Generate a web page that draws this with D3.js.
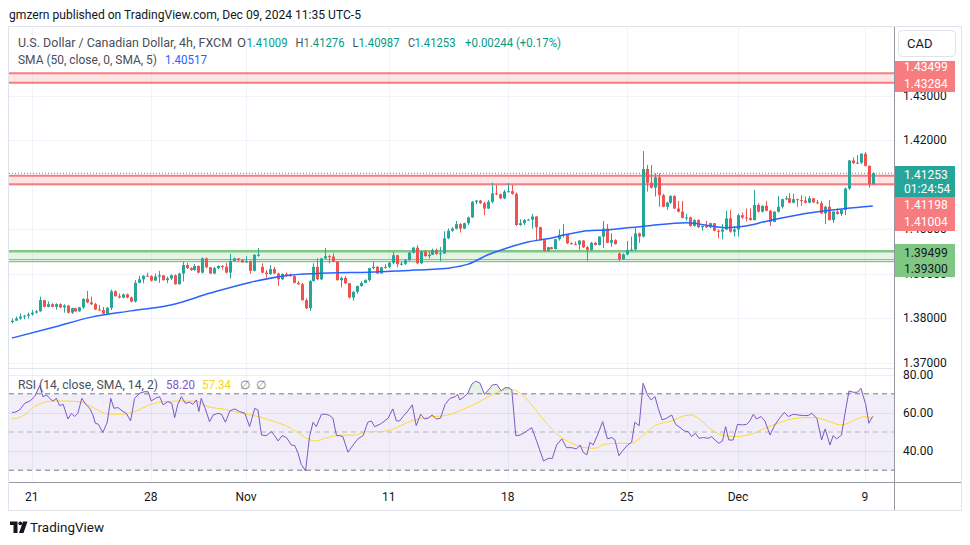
<!DOCTYPE html>
<html>
<head>
<meta charset="utf-8">
<script src="https://d3js.org/d3.v7.min.js"></script>
<style>
  html, body { margin: 0; padding: 0; background: #fff; }
  svg { display: block; font-family: Roboto, "Liberation Sans", sans-serif; }
</style>
</head>
<body>
<script>
// USD/CAD 4h candles, bar 0 = Fri Oct 18 05:00, bar 217 = Mon Dec 9 09:00 (UTC-5)
const firstOpen = 1.3791;
const gapBars = [63, 153];          // weekend gaps: open differs from previous close
const gapOpens = [1.3915, 1.3945];

const closes = [
  1.3794, 1.3799, 1.3803, 1.3805, 1.3808, 1.3812, 1.3815, 1.3840, 1.3825, 1.3831,
  1.3825, 1.3831, 1.3824, 1.3828, 1.3812, 1.3822, 1.3815, 1.3824, 1.3843, 1.3835,
  1.3831, 1.3819, 1.3818, 1.3810, 1.3823, 1.3860, 1.3849, 1.3846, 1.3853, 1.3846,
  1.3837, 1.3879, 1.3887, 1.3895, 1.3894, 1.3884, 1.3893, 1.3896, 1.3885, 1.3889,
  1.3896, 1.3876, 1.3900, 1.3919, 1.3912, 1.3908, 1.3917, 1.3902, 1.3934, 1.3914,
  1.3900, 1.3912, 1.3917, 1.3915, 1.3902, 1.3928, 1.3934, 1.3930, 1.3925, 1.3928,
  1.3906, 1.3942, 1.3942, 1.3902, 1.3899, 1.3910, 1.3900, 1.3887, 1.3899, 1.3898,
  1.3894, 1.3879, 1.3876, 1.3840, 1.3822, 1.3883, 1.3915, 1.3887, 1.3934, 1.3939,
  1.3938, 1.3927, 1.3885, 1.3890, 1.3878, 1.3846, 1.3859, 1.3872, 1.3879, 1.3885,
  1.3912, 1.3915, 1.3900, 1.3914, 1.3915, 1.3924, 1.3941, 1.3921, 1.3922, 1.3930,
  1.3947, 1.3958, 1.3923, 1.3949, 1.3939, 1.3942, 1.3953, 1.3944, 1.3945, 1.3979,
  1.3996, 1.4001, 1.4011, 1.4001, 1.4013, 1.4026, 1.4061, 1.4064, 1.4058, 1.4046,
  1.4061, 1.4080, 1.4078, 1.4069, 1.4084, 1.4085, 1.4079, 1.4009, 1.4013, 1.4020,
  1.4021, 1.4028, 1.4004, 1.3975, 1.3951, 1.3959, 1.3955, 1.3977, 1.3987, 1.3988,
  1.3968, 1.3966, 1.3965, 1.3974, 1.3959, 1.3953, 1.3969, 1.3964, 1.3983, 1.4001,
  1.3969, 1.3975, 1.3966, 1.3932, 1.3943, 1.3953, 1.3954, 1.3990, 1.3983, 1.4135,
  1.4104, 1.4093, 1.4116, 1.4076, 1.4050, 1.4059, 1.4074, 1.4046, 1.4039, 1.4025,
  1.4026, 1.4007, 1.4020, 1.4004, 1.4007, 1.4004, 1.4013, 1.3996, 1.3994, 1.3999,
  1.4024, 1.3994, 1.3999, 1.4031, 1.4026, 1.4025, 1.4020, 1.4054, 1.4039, 1.4052,
  1.4041, 1.4016, 1.4039, 1.4050, 1.4067, 1.4069, 1.4059, 1.4067, 1.4065, 1.4064,
  1.4059, 1.4069, 1.4060, 1.4058, 1.4035, 1.4050, 1.4020, 1.4039, 1.4034, 1.4043,
  1.4091, 1.4154, 1.4148, 1.4149, 1.4169, 1.4142, 1.41009, 1.41253
];
const highs = [
  1.3799, 1.3803, 1.3810, 1.3807, 1.3812, 1.3818, 1.3818, 1.3848, 1.3840, 1.3837,
  1.3833, 1.3833, 1.3833, 1.3831, 1.3829, 1.3823, 1.3823, 1.3825, 1.3844, 1.3861,
  1.3848, 1.3834, 1.3829, 1.3825, 1.3825, 1.3864, 1.3862, 1.3855, 1.3855, 1.3855,
  1.3848, 1.3885, 1.3894, 1.3896, 1.3902, 1.3896, 1.3900, 1.3906, 1.3896, 1.3893,
  1.3898, 1.3898, 1.3902, 1.3927, 1.3924, 1.3914, 1.3921, 1.3918, 1.3936, 1.3936,
  1.3915, 1.3915, 1.3918, 1.3919, 1.3924, 1.3944, 1.3936, 1.3934, 1.3932, 1.3939,
  1.3929, 1.3943, 1.3957, 1.3923, 1.3908, 1.3919, 1.3915, 1.3902, 1.3900, 1.3902,
  1.3900, 1.3896, 1.3883, 1.3879, 1.3844, 1.3885, 1.3923, 1.3934, 1.3935, 1.3957,
  1.3942, 1.3945, 1.3928, 1.3893, 1.3894, 1.3879, 1.3860, 1.3873, 1.3883, 1.3887,
  1.3913, 1.3927, 1.3917, 1.3915, 1.3921, 1.3926, 1.3948, 1.3942, 1.3927, 1.3932,
  1.3948, 1.3960, 1.3964, 1.3951, 1.3953, 1.3949, 1.3956, 1.3956, 1.3960, 1.3995,
  1.4001, 1.4004, 1.4018, 1.4013, 1.4014, 1.4028, 1.4063, 1.4065, 1.4065, 1.4061,
  1.4065, 1.4104, 1.4099, 1.4080, 1.4088, 1.4103, 1.4099, 1.4082, 1.4022, 1.4022,
  1.4023, 1.4034, 1.4029, 1.4005, 1.3977, 1.3960, 1.3960, 1.3978, 1.3999, 1.4011,
  1.3988, 1.3970, 1.3972, 1.3975, 1.3975, 1.3962, 1.3971, 1.3971, 1.3984, 1.4018,
  1.4011, 1.3990, 1.3977, 1.3947, 1.3945, 1.3973, 1.3983, 1.4004, 1.3992, 1.4175,
  1.4144, 1.4144, 1.4125, 1.4125, 1.4079, 1.4061, 1.4076, 1.4076, 1.4063, 1.4063,
  1.4034, 1.4028, 1.4022, 1.4022, 1.4008, 1.4018, 1.4014, 1.4013, 1.3999, 1.4011,
  1.4041, 1.4043, 1.4007, 1.4034, 1.4037, 1.4046, 1.4046, 1.4088, 1.4058, 1.4053,
  1.4063, 1.4043, 1.4040, 1.4074, 1.4068, 1.4074, 1.4080, 1.4079, 1.4068, 1.4076,
  1.4073, 1.4074, 1.4070, 1.4065, 1.4063, 1.4052, 1.4065, 1.4040, 1.4046, 1.4044,
  1.4093, 1.4155, 1.4161, 1.4166, 1.4170, 1.4173, 1.4143, 1.41276
];
const lows = [
  1.3788, 1.3794, 1.3796, 1.3797, 1.3799, 1.3805, 1.3810, 1.3814, 1.3824, 1.3824,
  1.3824, 1.3819, 1.3822, 1.3812, 1.3810, 1.3809, 1.3814, 1.3814, 1.3820, 1.3833,
  1.3829, 1.3818, 1.3816, 1.3809, 1.3809, 1.3818, 1.3848, 1.3844, 1.3844, 1.3844,
  1.3835, 1.3835, 1.3878, 1.3878, 1.3893, 1.3882, 1.3884, 1.3879, 1.3884, 1.3878,
  1.3885, 1.3875, 1.3875, 1.3882, 1.3910, 1.3906, 1.3906, 1.3900, 1.3900, 1.3912,
  1.3899, 1.3899, 1.3909, 1.3909, 1.3900, 1.3889, 1.3927, 1.3927, 1.3924, 1.3924,
  1.3900, 1.3905, 1.3938, 1.3900, 1.3891, 1.3897, 1.3899, 1.3872, 1.3885, 1.3893,
  1.3893, 1.3878, 1.3874, 1.3839, 1.3820, 1.3816, 1.3882, 1.3885, 1.3885, 1.3933,
  1.3923, 1.3925, 1.3884, 1.3869, 1.3876, 1.3844, 1.3839, 1.3855, 1.3870, 1.3878,
  1.3882, 1.3909, 1.3899, 1.3900, 1.3911, 1.3912, 1.3921, 1.3914, 1.3918, 1.3919,
  1.3928, 1.3945, 1.3921, 1.3921, 1.3938, 1.3934, 1.3942, 1.3942, 1.3928, 1.3944,
  1.3977, 1.3994, 1.3999, 1.3992, 1.4000, 1.4009, 1.4025, 1.4056, 1.4056, 1.4031,
  1.4045, 1.4058, 1.4076, 1.4067, 1.4067, 1.4082, 1.4077, 1.4007, 1.4007, 1.4009,
  1.4019, 1.4001, 1.3975, 1.3974, 1.3949, 1.3949, 1.3954, 1.3954, 1.3974, 1.3981,
  1.3966, 1.3965, 1.3964, 1.3953, 1.3957, 1.3929, 1.3951, 1.3963, 1.3963, 1.3957,
  1.3968, 1.3960, 1.3965, 1.3927, 1.3930, 1.3941, 1.3951, 1.3951, 1.3969, 1.3981,
  1.4084, 1.4091, 1.4073, 1.4050, 1.4049, 1.4043, 1.4056, 1.4045, 1.4037, 1.4024,
  1.4019, 1.4005, 1.4005, 1.4002, 1.3996, 1.4002, 1.4002, 1.3995, 1.3979, 1.3977,
  1.3998, 1.3992, 1.3983, 1.3983, 1.4022, 1.4017, 1.4019, 1.4019, 1.4037, 1.4037,
  1.4040, 1.4007, 1.4015, 1.4037, 1.4046, 1.4065, 1.4058, 1.4058, 1.4050, 1.4052,
  1.4058, 1.4058, 1.4058, 1.4056, 1.4034, 1.4011, 1.4019, 1.4014, 1.4032, 1.4029,
  1.4031, 1.4088, 1.4146, 1.4146, 1.4146, 1.4140, 1.4093, 1.40987
];

// SMA(50) line at these bars
const smaBars = [0, 10, 20, 30, 40, 50, 60, 70, 80, 90, 100, 105, 110, 115, 120, 125, 130,
  135, 140, 145, 150, 160, 170, 180, 185, 190, 200, 210, 217];
const smaValues = [1.3755, 1.3778, 1.3802, 1.3816, 1.3829, 1.3856, 1.3880, 1.3896, 1.3901,
  1.3903, 1.3907, 1.3909, 1.3912, 1.3921, 1.3942, 1.3958, 1.3971, 1.3978, 1.3988, 1.3996,
  1.3998, 1.4007, 1.4014, 1.4003, 1.4007, 1.4017, 1.4035, 1.4046, 1.40517];

const rsiPos = [0, 0.7, 1.9, 3.2, 4.5, 5.7, 7, 7.8, 8.7, 9.5, 10.3, 11.2, 12, 12.9, 14.1, 15,
  15.8, 16.6, 17.6, 18.7, 19.6, 20.4, 21, 21.8, 22.9, 24, 24.9, 25.7, 26.7, 28, 28.8, 29.9,
  30.9, 32.2, 33.4, 34.3, 35.1, 36.1, 37.2, 38.1, 39.3, 40.3, 41, 41.8, 42.7, 43.7, 44.8,
  45.6, 46.5, 47.1, 47.7, 48.7, 49.8, 50.7, 51.9, 52.8, 53.8, 54.9, 56.1, 57.4, 58.7, 59.9,
  61.2, 62, 62.9, 64.1, 65.4, 66.2, 67.1, 68.1, 69.2, 70.4, 71.3, 72.1, 72.9, 74, 75, 75.9,
  76.7, 78, 79.2, 80.1, 80.9, 81.8, 82.6, 83.4, 84.7, 86, 87.2, 88.5, 89.7, 90.6, 91.4, 92.7,
  93.5, 94.8, 96, 96.9, 97.7, 98.6, 99.8, 100.9, 101.9, 103, 104, 104.9, 105.9, 107, 108,
  109.2, 110.4, 111.7, 112.3, 112.9, 114, 114.9, 115.9, 116.9, 118, 119.1, 120.1, 121.1,
  122.2, 123.3, 124.3, 125.3, 126, 127, 128.1, 129.3, 131, 132.3, 134, 135.2, 136.2, 137.3,
  138.6, 139.8, 141.1, 142.3, 143.2, 144, 144.9, 145.7, 146.5, 147.6, 148.9, 150.1, 151.2,
  152, 153, 154.1, 155.2, 156.2, 157, 158.1, 159.1, 160.2, 161.1, 162.1, 162.9, 163.9, 165,
  166.3, 167.3, 168.4, 169.5, 170.5, 171.3, 172.3, 173.2, 174.3, 175.5, 176.4, 177.2, 178.2,
  179.1, 179.9, 180.7, 181.8, 182.9, 184.1, 185.2, 186, 186.9, 187.7, 188.8, 189.8, 191.1,
  192.3, 193.6, 194.7, 195.7, 197, 198.2, 199.5, 200.7, 201.6, 202.9, 204.1, 205, 206.2,
  207, 207.9, 209.1, 210, 211, 212.1, 213.1, 214, 215.2, 216, 217];
const rsiValues = [60.3, 60.3, 61.5, 65.0, 66.2, 68.5, 74.3, 68.5, 69.4, 67.6, 66.2, 67.6,
  63.8, 64.5, 56.8, 59.8, 58.1, 59.8, 67.6, 64.2, 62.4, 58.9, 54.6, 54.0, 49.7, 55.1, 67.6,
  62.4, 62.8, 60.7, 59.8, 55.8, 67.6, 70.3, 71.1, 71.1, 66.2, 67.6, 68.5, 64.2, 65.9, 65.0,
  57.5, 64.5, 68.5, 65.0, 65.6, 64.5, 66.8, 60.7, 67.6, 62.4, 55.4, 58.9, 59.8, 59.3, 55.1,
  61.0, 62.1, 60.7, 59.8, 52.8, 62.4, 61.5, 48.4, 48.1, 50.2, 48.1, 45.3, 48.1, 47.1, 43.2,
  42.9, 38.9, 33.1, 29.6, 47.6, 55.1, 52.8, 59.3, 59.3, 58.6, 57.2, 48.1, 48.1, 47.6, 39.4,
  43.2, 46.4, 48.1, 55.1, 55.8, 52.8, 54.0, 55.1, 57.2, 62.1, 55.8, 55.8, 58.1, 61.0, 64.2,
  53.3, 59.3, 56.8, 57.2, 58.9, 56.8, 57.2,
  64.5, 67.6, 68.5, 69.7, 66.8, 68.5, 70.3, 75.0, 76.7, 75.5, 69.7, 72.0, 74.6, 75.0, 71.5,
  73.2, 73.2, 72.0, 48.1, 48.4, 49.8, 52.3, 45.0, 34.8, 36.2, 36.2, 43.2, 46.4, 41.8, 41.8,
  41.1, 43.2, 39.4, 38.0, 44.6, 43.2, 48.4, 55.4, 46.4, 47.1, 45.8, 37.6, 40.6, 43.2, 44.6,
  55.1, 53.3, 75.5, 69.4, 66.8, 68.5, 62.4, 56.3, 57.2, 58.9, 54.0, 52.3, 50.5, 50.2, 47.6,
  49.3, 46.7, 47.1, 46.7, 47.6, 45.8, 44.1, 45.3, 52.8, 45.8, 45.8, 54.0, 53.7, 54.0, 55.8,
  59.3, 56.8, 58.1, 55.8, 48.4, 53.7, 57.5, 60.3, 58.1, 59.3, 58.9, 58.6, 58.6, 59.8, 57.2,
  45.8, 51.6, 43.2, 48.1, 46.4, 48.4, 59.8, 71.5, 70.8, 70.8, 72.9, 64.5, 54.6, 58.2];
const rsiMaPos = [0, 2.4, 5.7, 9.9, 14.1, 17.5, 20.8, 24.2, 27.6, 30.9, 35.1, 38.5, 42.7,
  46.1, 49.4, 53.6, 57.8, 62, 66.2, 70.4, 72.9, 74.6, 76.3, 79.7, 83, 86.4, 89.7, 93.1,
  96.5, 99.8, 103.2, 106.6, 109.5, 113.4, 117.6, 121.8, 125.1, 127.6, 131, 134.4, 137.7,
  141.1, 144.4, 147, 149.5, 152.8, 155.8, 158.7, 162.1, 166.3, 169.7, 171.3, 173, 176.4,
  179.7, 182.3, 185.6, 189.8, 193.2, 196.5, 199.9, 202.4, 205, 209.1, 212.5, 215, 217];
const rsiMaValues = [56.8, 58.1, 63.3, 66.2, 66.2, 65.6, 62.4, 59.4, 59.3, 60.7, 64.5, 65.9,
  66.2, 66.2, 63.3, 61.9, 59.8, 58.1, 55.4, 51.9, 48.4, 46.4, 45.3, 47.1, 48.4, 48.4, 50.2,
  50.2, 51.9, 55.1, 57.2, 58.1, 58.7, 61.5, 65.6, 70.3, 72.5, 71.1, 64.2, 55.4, 48.4, 44.1,
  41.8, 41.5, 43.6, 44.1, 43.9, 47.6, 53.3, 55.8, 58.6, 58.9, 57.2, 51.1, 48.1, 47.6, 48.4,
  51.9, 54.6, 56.8, 57.5, 57.5, 56.3, 53.7, 56.3, 58.1, 57.34];

// horizontal levels drawn on the chart
const redBands = [[1.43499, 1.43284], [1.41198, 1.41004]];
const greenBand = [1.39499, 1.39300];
const lastPrice = 1.41253;
const priceTicks = [1.37, 1.38, 1.39, 1.40, 1.41, 1.42, 1.43];
const rsiTicks = [80, 60, 40];
const timeBars = [5, 35, 59, 95, 125, 155, 183, 215];
const timeLabels = ["21", "28", "Nov", "11", "18", "25", "Dec", "9"];

const w = 970, h = 545;
const padL = 9, padR = 894, frameR = 961;
const paneTop = 27, sepY = 368.5, axisY = 482, frameB = 510;
const up = "#26a69a", down = "#ef5350", band = "#f77c80", green = "#81c784";

const svg = d3.select("body").append("svg").attr("width", w).attr("height", h);
const x = d3.scaleLinear().domain([0, 217]).range([12, 872.8]);
const y = d3.scaleLinear().domain([1.37, 1.43]).range([362.5, 95.5]);
const yr = d3.scaleLinear().domain([30, 70]).range([470.2, 393.8]);

const defs = svg.append("defs");
defs.append("clipPath").attr("id", "mainClip").append("rect")
  .attr("x", padL).attr("y", paneTop).attr("width", padR - padL).attr("height", sepY - paneTop);
defs.append("clipPath").attr("id", "rsiClip").append("rect")
  .attr("x", padL).attr("y", sepY).attr("width", padR - padL).attr("height", axisY - sepY);

function label(g, px, py, s, color, size, opts = {}) {
  const t = g.append("text").attr("x", px).attr("y", py).text(s)
    .attr("fill", color).attr("font-size", size);
  if (opts.anchor) t.attr("text-anchor", opts.anchor);
  if (opts.len) t.attr("textLength", opts.len).attr("lengthAdjust", "spacingAndGlyphs");
  return t;
}

// header
label(svg, 9, 19, "gmzern published on TradingView.com, Dec 09, 2024 11:35 UTC-5", "#131722", 13, { len: 352 });

// frame
svg.append("rect").attr("x", padL - 0.5).attr("y", paneTop - 0.5)
  .attr("width", frameR - padL + 1).attr("height", frameB - paneTop + 1)
  .attr("fill", "none").attr("stroke", "#e0e3eb");

// grid
const grid = svg.append("g").attr("stroke", "#f0f3fa").attr("stroke-width", 1);
timeBars.forEach(b => {
  grid.append("line").attr("x1", Math.round(x(b)) + 0.5).attr("x2", Math.round(x(b)) + 0.5)
    .attr("y1", paneTop).attr("y2", axisY);
});
priceTicks.forEach(p => {
  grid.append("line").attr("x1", padL).attr("x2", padR)
    .attr("y1", Math.round(y(p)) + 0.5).attr("y2", Math.round(y(p)) + 0.5);
});

// main pane
const main = svg.append("g").attr("clip-path", "url(#mainClip)");

redBands.forEach(([a, b]) => {
  main.append("rect").attr("x", padL).attr("width", padR - padL)
    .attr("y", y(a)).attr("height", y(b) - y(a)).attr("fill", "rgba(247,124,128,0.2)");
  [a, b].forEach(p => main.append("line").attr("x1", padL).attr("x2", padR)
    .attr("y1", y(p)).attr("y2", y(p)).attr("stroke", band).attr("stroke-width", 2));
});
main.append("rect").attr("x", padL).attr("width", padR - padL)
  .attr("y", y(greenBand[0])).attr("height", y(greenBand[1]) - y(greenBand[0]))
  .attr("fill", "rgba(129,199,132,0.2)");
main.append("line").attr("x1", padL).attr("x2", padR)
  .attr("y1", y(greenBand[0])).attr("y2", y(greenBand[0])).attr("stroke", green).attr("stroke-width", 2.5);
main.append("line").attr("x1", padL).attr("x2", padR)
  .attr("y1", y(greenBand[1]) - 0.5).attr("y2", y(greenBand[1]) - 0.5).attr("stroke", green).attr("stroke-width", 1.2);
main.append("line").attr("x1", padL).attr("x2", padR)
  .attr("y1", y(greenBand[1]) + 1.5).attr("y2", y(greenBand[1]) + 1.5).attr("stroke", green).attr("stroke-width", 1.2);

main.append("line").attr("x1", padL).attr("x2", padR)
  .attr("y1", y(lastPrice)).attr("y2", y(lastPrice))
  .attr("stroke", up).attr("stroke-width", 1).attr("stroke-dasharray", "1 2");

const candles = closes.map((c, i) => {
  let o = i === 0 ? firstOpen : closes[i - 1];
  const g = gapBars.indexOf(i);
  if (g >= 0) o = gapOpens[g];
  return { i, o, c, h: Math.max(highs[i], o, c), l: Math.min(lows[i], o, c) };
});
const cg = main.append("g");
cg.selectAll("line").data(candles).join("line")
  .attr("x1", d => Math.round(x(d.i)) + 0.5).attr("x2", d => Math.round(x(d.i)) + 0.5)
  .attr("y1", d => y(d.h)).attr("y2", d => y(d.l))
  .attr("stroke", d => d.c >= d.o ? up : down).attr("stroke-width", 1);
cg.selectAll("rect").data(candles).join("rect")
  .attr("x", d => Math.round(x(d.i)) - 1)
  .attr("width", 3)
  .attr("y", d => y(Math.max(d.o, d.c)))
  .attr("height", d => Math.max(1, Math.abs(y(d.o) - y(d.c))))
  .attr("fill", d => d.c >= d.o ? up : down);

const smaLine = d3.line().x(d => x(d[0])).y(d => y(d[1])).curve(d3.curveMonotoneX);
main.append("path").datum(smaBars.map((b, k) => [b, smaValues[k]]))
  .attr("d", smaLine).attr("fill", "none").attr("stroke", "#2962ff").attr("stroke-width", 1.5);

// legends
const lg = svg.append("g");
const l1 = lg.append("text").attr("y", 47).attr("font-size", 12);
const l1parts = [
  ["U.S. Dollar / Canadian Dollar, 4h, FXCM", 18, 214, "#4a4e59"],
  ["O", 237, 9, "#4a4e59"], ["1.41009", 246.5, 41, "#089981"],
  ["H", 295.5, 8, "#4a4e59"], ["1.41276", 303.5, 41, "#089981"],
  ["L", 352.5, 6, "#4a4e59"], ["1.40987", 358.5, 41, "#089981"],
  ["C", 408, 7, "#4a4e59"], ["1.41253", 414.5, 41, "#089981"],
  ["+0.00244 (+0.17%)", 465, 96, "#089981"]
];
l1parts.forEach(([s, px, len, col]) => l1.append("tspan").attr("x", px).attr("fill", col)
  .attr("textLength", len).attr("lengthAdjust", "spacingAndGlyphs").text(s));
label(lg, 18, 64, "SMA (50, close, 0, SMA, 5)", "#4a4e59", 12, { len: 139 });
label(lg, 165, 64, "1.40517", "#2962ff", 12, { len: 42 });

// RSI pane
const rsi = svg.append("g").attr("clip-path", "url(#rsiClip)");
rsi.append("rect").attr("x", padL).attr("width", padR - padL)
  .attr("y", yr(70)).attr("height", yr(30) - yr(70)).attr("fill", "rgba(126,87,194,0.1)");
rsiTicks.forEach(v => rsi.append("line").attr("x1", padL).attr("x2", padR)
  .attr("y1", Math.round(yr(v)) + 0.5).attr("y2", Math.round(yr(v)) + 0.5)
  .attr("stroke", "rgba(126,87,194,0.12)"));
[[70, "#787b86"], [50, "rgba(120,123,134,0.5)"], [30, "#787b86"]].forEach(([v, col]) =>
  rsi.append("line").attr("x1", padL).attr("x2", padR)
    .attr("y1", yr(v)).attr("y2", yr(v)).attr("stroke", col).attr("stroke-dasharray", "5 4"));

const rsiPts = rsiPos.map((p, k) => [p, rsiValues[k]]);
rsi.append("path").datum(rsiPts)
  .attr("d", d3.area().x(d => x(d[0])).y0(yr(70)).y1(d => yr(Math.max(70, d[1]))))
  .attr("fill", "rgba(76,175,80,0.15)");
rsi.append("path").datum(rsiPts)
  .attr("d", d3.area().x(d => x(d[0])).y0(yr(30)).y1(d => yr(Math.min(30, d[1]))))
  .attr("fill", "rgba(242,54,69,0.15)");
rsi.append("path").datum(rsiMaPos.map((p, k) => [p, rsiMaValues[k]]))
  .attr("d", d3.line().x(d => x(d[0])).y(d => yr(d[1])).curve(d3.curveMonotoneX))
  .attr("fill", "none").attr("stroke", "#fdd835").attr("stroke-width", 1);
rsi.append("path").datum(rsiPts)
  .attr("d", d3.line().x(d => x(d[0])).y(d => yr(d[1])))
  .attr("fill", "none").attr("stroke", "#7e57c2").attr("stroke-width", 1);

label(svg, 18, 389, "RSI (14, close, SMA, 14, 2)", "#4a4e59", 12, { len: 140 });
label(svg, 166, 389, "58.20", "#7e57c2", 12, { len: 29 });
label(svg, 202, 389, "57.34", "#f9d51b", 12, { len: 29 });
label(svg, 240, 389, "\u2205", "#787b86", 12);
label(svg, 256, 389, "\u2205", "#787b86", 12);

// pane borders
svg.append("line").attr("x1", padL).attr("x2", padR).attr("y1", sepY).attr("y2", sepY)
  .attr("stroke", "#e0e3eb");
svg.append("line").attr("x1", padL).attr("x2", frameR).attr("y1", axisY + 0.5).attr("y2", axisY + 0.5)
  .attr("stroke", "#9598a1");
svg.append("line").attr("x1", padR + 0.5).attr("x2", padR + 0.5).attr("y1", paneTop).attr("y2", frameB)
  .attr("stroke", "#9598a1");

// time axis
timeBars.forEach((b, k) => label(svg, x(b), 501, timeLabels[k], "#131722", 12, { anchor: "middle" }));

// price axis: the label boxes cover some tick labels completely, those are left out
const boxes = [
  { y0: 61, y1: 92, fill: band, color: "#fff", lines: [["1.43499", 66.7], ["1.43284", 84.3]] },
  { y0: 166, y1: 197, fill: up, color: "#fff", lines: [["1.41253", 175], ["01:24:54", 189]] },
  { y0: 197, y1: 231, fill: band, color: "#fff", lines: [["1.41198", 205], ["1.41004", 222.3]] },
  { y0: 244, y1: 277, fill: green, color: "#131722", lines: [["1.39499", 253.3], ["1.39300", 269]] }
];
const ax = svg.append("g");
priceTicks.forEach(p => {
  const cy = y(p);
  const hidden = boxes.some(b => cy - 6 >= b.y0 - 1 && cy + 6 <= b.y1 + 1) ||
    (cy > 160 && cy < 210);
  if (!hidden) label(ax, 903, cy + 4, d3.format(".5f")(p), "#131722", 12);
});
rsiTicks.forEach(v => label(ax, 903, yr(v) + 4, d3.format(".2f")(v), "#131722", 12));

boxes.forEach(b => {
  ax.append("rect").attr("x", 895).attr("width", 60).attr("y", b.y0).attr("height", b.y1 - b.y0)
    .attr("fill", b.fill);
  b.lines.forEach(([s, cy]) => label(ax, 904, cy + 4, s, b.color, 12));
});

// currency button
ax.append("rect").attr("x", 898.5).attr("y", 30.5).attr("width", 57).attr("height", 26).attr("rx", 4)
  .attr("fill", "#fff").attr("stroke", "#e0e3eb");
label(ax, 907, 48, "CAD", "#131722", 13);

// footer logo
const logo = svg.append("g").attr("fill", "#131722");
logo.append("path").attr("d", "M10,521.5 H17.5 V533 H13.5 V525 H10 Z");
logo.append("circle").attr("cx", 20.3).attr("cy", 523.3).attr("r", 1.9);
logo.append("path").attr("d", "M23,521.5 H27.5 L23.5,533 H19 Z");
label(svg, 30, 532, "TradingView", "#131722", 13, { len: 74 });
</script>
</body>
</html>
